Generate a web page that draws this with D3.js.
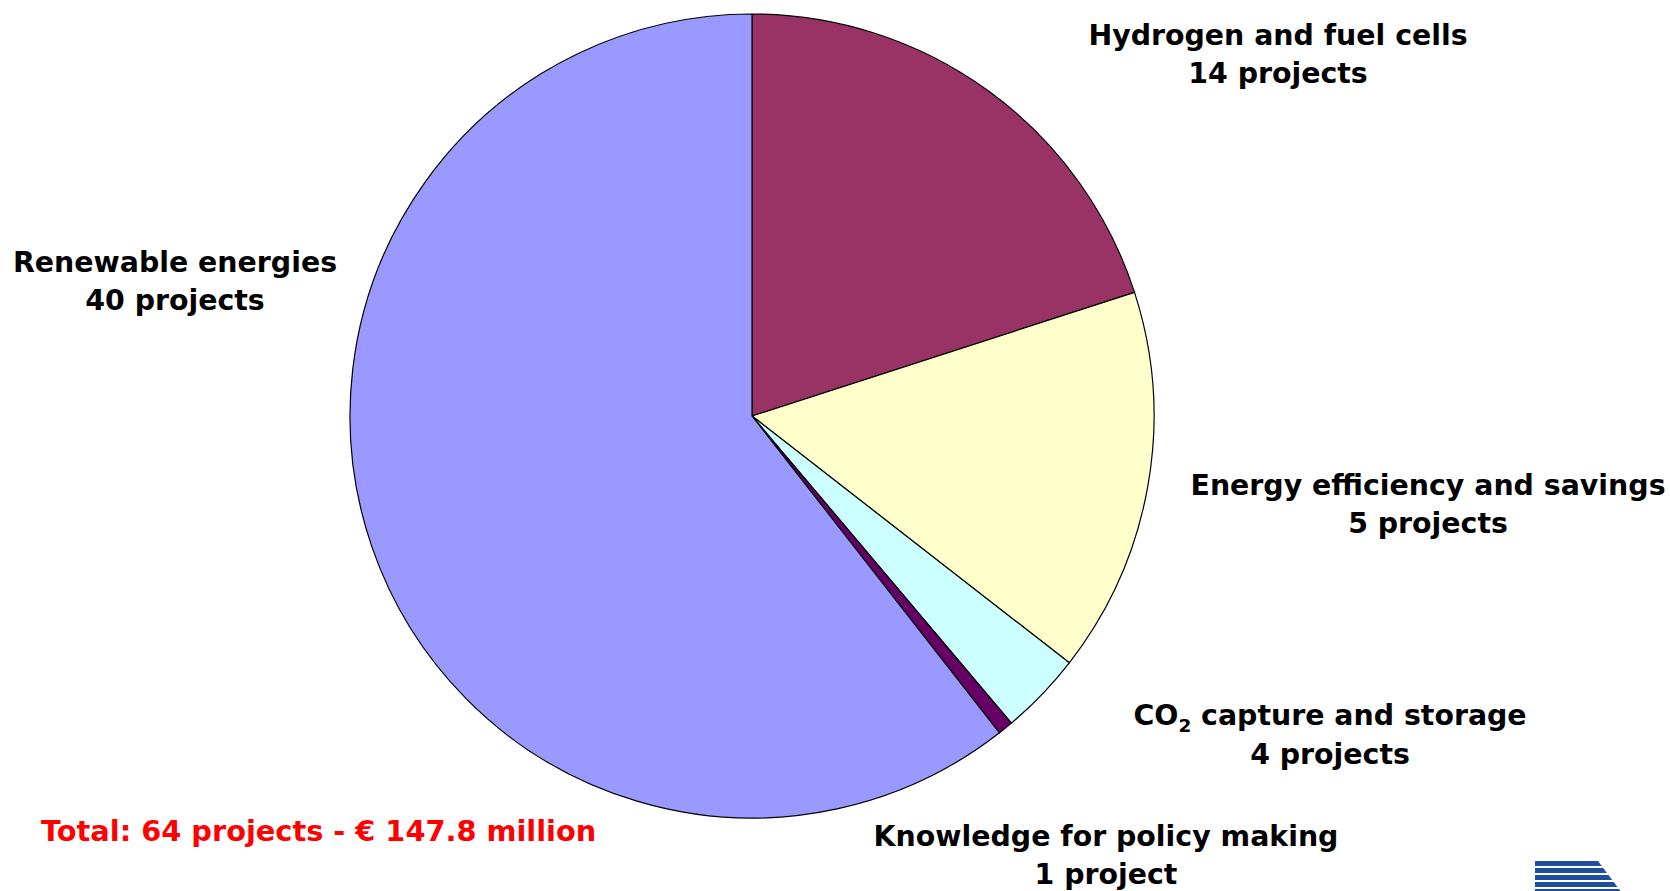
<!DOCTYPE html>
<html>
<head>
<meta charset="utf-8">
<script src="https://cdn.jsdelivr.net/npm/d3@7"></script>
<style>
  html, body { margin: 0; padding: 0; background: #ffffff; }
  svg { display: block; }
  text { font-family: "DejaVu Sans", Verdana, sans-serif; font-weight: bold; }
</style>
</head>
<body>
<svg id="chart" width="1670" height="891"></svg>
<script>
// Thematic areas, funding (EUR million) and number of projects
const categories = [
  "Hydrogen and fuel cells",
  "Energy efficiency and savings",
  "CO2 capture and storage",
  "Knowledge for policy making",
  "Renewable energies"
];
const funding = [29.6, 22.9, 4.9, 0.9, 89.5];
const projects = [14, 5, 4, 1, 40];
const sliceColors = ["#993366", "#FFFFCC", "#CCFFFF", "#660066", "#9999FF"];
const totalLabel = "Total: 64 projects - \u20AC 147.8 million";

// Label anchor points (centre x, first baseline y)
const labelPos = [
  [1278, 44.5],
  [1428, 494.5],
  [1330, 725],
  [1106, 845.5],
  [175, 271.5]
];

const cx = 752, cy = 416, radius = 402;
const lineGap = 38.5;
const fontSize = 28.4;

const svg = d3.select("#chart");

const rows = categories.map((c, i) => ({
  name: c, value: funding[i], count: projects[i], color: sliceColors[i], pos: labelPos[i]
}));

const pie = d3.pie().sort(null).value(d => d.value);
const arc = d3.arc().innerRadius(0).outerRadius(radius);

const g = svg.append("g").attr("transform", `translate(${cx},${cy})`);
g.selectAll("path.slice")
  .data(pie(rows))
  .join("path")
  .attr("class", "slice")
  .attr("d", arc)
  .attr("fill", d => d.data.color)
  .attr("stroke", "#000")
  .attr("stroke-width", 1.2)
  .attr("stroke-linejoin", "round");

// Category labels
const lab = svg.selectAll("g.label")
  .data(rows)
  .join("g")
  .attr("class", "label")
  .attr("transform", d => `translate(${d.pos[0]},${d.pos[1]})`);

lab.append("text")
  .attr("text-anchor", "middle")
  .attr("font-size", fontSize)
  .attr("fill", "#000")
  .each(function (d) {
    const t = d3.select(this);
    if (d.name.startsWith("CO2")) {
      t.append("tspan").text("CO");
      t.append("tspan").attr("font-size", fontSize * 0.65).attr("dy", 7).text("2");
      t.append("tspan").attr("dy", -7).text(d.name.slice(3));
    } else {
      t.text(d.name);
    }
  });

lab.append("text")
  .attr("text-anchor", "middle")
  .attr("font-size", fontSize)
  .attr("fill", "#000")
  .attr("y", lineGap)
  .text(d => `${d.count} ${d.count === 1 ? "project" : "projects"}`);

// Total
svg.append("text")
  .attr("x", 41)
  .attr("y", 841)
  .attr("font-size", 28.8)
  .attr("fill", "#FF0000")
  .text(totalLabel);

// Corner emblem: striped blue wedge
const logo = svg.append("g").attr("transform", "translate(1535,861)");
const stripeH = 5, stripeGap = 2;
for (let k = 0; k < 5; k++) {
  const y0 = k * (stripeH + stripeGap);
  const xr0 = 63 + y0 * 0.75, xr1 = 63 + (y0 + stripeH) * 0.75;
  logo.append("path")
    .attr("d", `M0,${y0} L${xr0},${y0} L${xr1},${y0 + stripeH} L0,${y0 + stripeH} Z`)
    .attr("fill", "#1f4e9e");
}
</script>
</body>
</html>
